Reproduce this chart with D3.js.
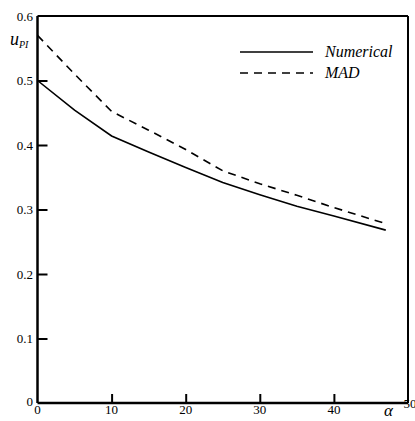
<!DOCTYPE html>
<html><head><meta charset="utf-8">
<script src="https://cdn.jsdelivr.net/npm/d3@7"></script>
<style>body{margin:0;background:#fff}svg{display:block}</style>
</head><body>
<svg id="c" width="415" height="421"></svg>
<script>
const alpha = [0, 5, 10, 15, 20, 25, 30, 35, 40, 47];
const numerical = [0.500, 0.454, 0.414, 0.389, 0.365, 0.342, 0.323, 0.305, 0.290, 0.268];
const mad = [0.570, 0.510, 0.452, 0.423, 0.393, 0.360, 0.340, 0.322, 0.303, 0.278];
const xTicks = [10, 20, 30, 40];
const yTicks = [0.1, 0.2, 0.3, 0.4, 0.5];
const seriesNames = ["Numerical", "MAD"];

const svg = d3.select("#c");
const x = d3.scaleLinear().domain([0, 50]).range([37.5, 408]);
const y = d3.scaleLinear().domain([0, 0.6]).range([403, 16]);

// frame
svg.append("line").attr("x1", x(0)).attr("x2", x(50)).attr("y1", y(0.6)).attr("y2", y(0.6)).attr("stroke", "#000").attr("stroke-width", 2);
svg.append("line").attr("x1", x(50)).attr("x2", x(50)).attr("y1", y(0.6)).attr("y2", y(0)).attr("stroke", "#000").attr("stroke-width", 2);

// axes with inward ticks
const gx = svg.append("g").attr("transform", `translate(0,${y(0)})`)
  .call(d3.axisTop(x).tickValues(xTicks).tickSize(9).tickFormat(""));
gx.select(".domain").attr("stroke-width", 2.5).attr("d", `M${x(0)},0H${x(50)}`);
gx.selectAll(".tick line").attr("stroke-width", 2);
const gy = svg.append("g").attr("transform", `translate(${x(0)},0)`)
  .call(d3.axisRight(y).tickValues(yTicks).tickSize(10).tickFormat(""));
gy.select(".domain").attr("stroke-width", 2.5).attr("d", `M0,${y(0)}V${y(0.6)}`);
gy.selectAll(".tick line").attr("stroke-width", 2);

// tick labels
const fs = 13;
const T = (sel) => sel.style("font-family", "'Liberation Serif', 'DejaVu Serif', serif").attr("fill", "#000");
[0].concat(xTicks).forEach(v => {
  T(svg.append("text")).attr("x", x(v)).attr("y", 414).attr("text-anchor", "middle").attr("font-size", fs).text(v);
});
T(svg.append("text")).attr("x", x(50) + 2).attr("y", 408).attr("text-anchor", "middle").attr("font-size", fs).text(50);
[0.6].concat(yTicks).forEach(v => {
  T(svg.append("text")).attr("x", 33).attr("y", y(v) + 4.5).attr("text-anchor", "end").attr("font-size", fs).text(d3.format(".1f")(v));
});
T(svg.append("text")).attr("x", 33).attr("y", 406).attr("text-anchor", "end").attr("font-size", fs).text("0");

// axis labels
const ul = T(svg.append("text")).attr("x", 10).attr("y", 45).attr("font-size", 18).attr("font-style", "italic");
ul.append("tspan").text("u");
ul.append("tspan").attr("font-size", 10).attr("dy", 3).text("PI");
T(svg.append("text")).attr("x", 384).attr("y", 416).attr("font-size", 17).attr("font-style", "italic").text("α");

// lines
const line = d3.line().x((d, i) => x(alpha[i])).y(d => y(d));
svg.append("path").attr("d", line(numerical)).attr("fill", "none").attr("stroke", "#000").attr("stroke-width", 1.6);
svg.append("path").attr("d", line(mad)).attr("fill", "none").attr("stroke", "#000").attr("stroke-width", 1.6).attr("stroke-dasharray", "8,6");

// legend
const leg = [{y: 52, dash: null}, {y: 73, dash: "8,6"}];
leg.forEach((l, i) => {
  const p = svg.append("line").attr("x1", 240).attr("x2", 313).attr("y1", l.y).attr("y2", l.y).attr("stroke", "#000").attr("stroke-width", 1.6);
  if (l.dash) p.attr("stroke-dasharray", l.dash);
  T(svg.append("text")).attr("x", 325).attr("y", l.y + 5).attr("font-size", 16).attr("font-style", "italic").text(seriesNames[i]);
});
</script>
</body></html>
